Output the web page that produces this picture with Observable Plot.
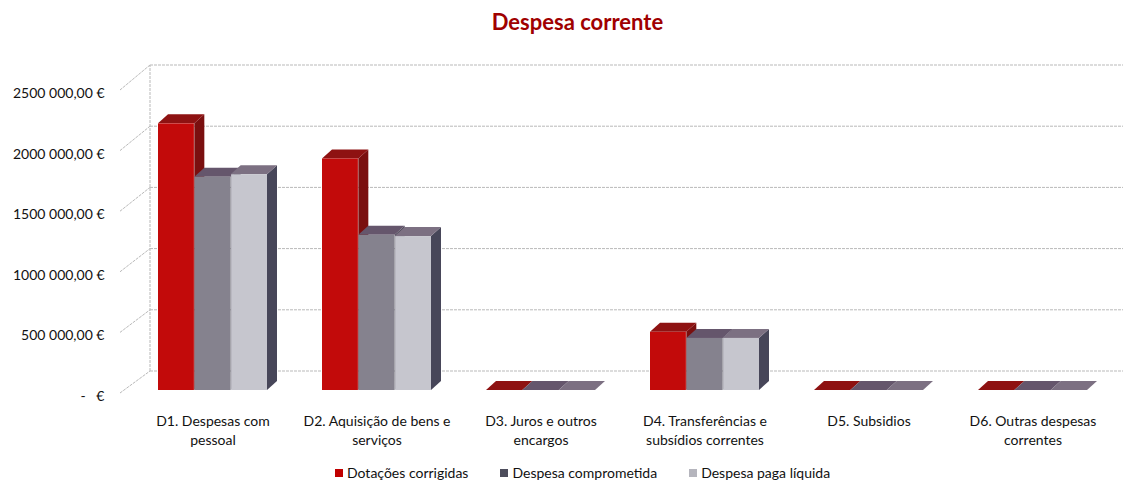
<!DOCTYPE html>
<html><head><meta charset="utf-8">
<script src="https://cdn.jsdelivr.net/npm/d3@7"></script>
<script src="https://cdn.jsdelivr.net/npm/@observablehq/plot@0.6"></script>
<style>
body{margin:0;background:#fff;font-family:Lato,sans-serif;}
#wrap{position:relative;width:1123px;height:482px;overflow:hidden;background:#fff;}
#chart{position:absolute;left:0;top:0;}
#title{position:absolute;left:0;width:1155px;top:8px;text-align:center;font-weight:bold;font-size:22px;color:#a00000;}
#legend{position:absolute;top:464px;left:335px;font-size:14px;color:#111;display:flex;gap:32px;line-height:18px;}
#legend .it{display:flex;align-items:center;}
#legend .sw{width:8px;height:8px;margin-right:4px;display:inline-block;}
</style></head><body>
<div id="wrap"><div id="chart"></div><div id="title">Despesa corrente</div><div id="legend"></div></div>
<script>
const categories = ["D1. Despesas com pessoal", "D2. Aquisição de bens e serviços", "D3. Juros e outros encargos", "D4. Transferências e subsídios correntes", "D5. Subsidios", "D6. Outras despesas correntes"];
const categoryLabels = ["D1. Despesas com\npessoal", "D2. Aquisição de bens e\nserviços", "D3. Juros e outros\nencargos", "D4. Transferências e\nsubsídios correntes", "D5. Subsidios", "D6. Outras despesas\ncorrentes"];
const seriesNames = ["Dotações corrigidas", "Despesa comprometida", "Despesa paga líquida"];
const dotacoesCorrigidas = [2200000, 1910000, 0, 480000, 0, 0];
const despesaComprometida = [1760000, 1280000, 0, 430000, 0, 0];
const despesaPagaLiquida = [1780000, 1270000, 0, 430000, 0, 0];
const yTicks = [0, 500000, 1000000, 1500000, 2000000, 2500000];
const yTickLabels = ["-\u00a0\u00a0\u00a0€", "500\u00a0000,00 €", "1000\u00a0000,00 €", "1500\u00a0000,00 €", "2000\u00a0000,00 €", "2500\u00a0000,00 €"];

const series = [
  {name: seriesNames[0], values: dotacoesCorrigidas, front: "#c20a0a", top: "#8e1212", side: "#7a0f0f", sw: "#c00000"},
  {name: seriesNames[1], values: despesaComprometida, front: "#85828e", top: "#65566c", side: "#4b4858", sw: "#4d4d5c"},
  {name: seriesNames[2], values: despesaPagaLiquida, front: "#c6c6ce", top: "#7c7082", side: "#474659", sw: "#b5b5bd"}
];

const W = 1123, H = 455, ML = 129, MR = 7, MT = 90, MB = H - 393;
const DX = 10, DY = 9, LIFT = 3;          // bar depth projection
const WDX = 21, WDY = 22, WALLX = 9;     // wall depth projection
const bandW = (W - ML - MR) / categories.length * (2 / 3);
const barW = bandW / 3;

// walls and gridlines
function walls(index, scales) {
  const {y} = scales;
  const g = d3.create("svg:g").attr("stroke", "#b9b9b9").attr("fill", "none").attr("stroke-dasharray", "3,1");
  const xf = ML - WALLX, xb = ML + WDX;
  for (const t of yTicks) {
    const yb = y(t) - WDY - 3 * (t / 2500000);
    g.append("line").attr("x1", xf).attr("y1", y(t)).attr("x2", xb).attr("y2", yb);
    g.append("line").attr("x1", xb).attr("y1", yb).attr("x2", W).attr("y2", yb);
  }
  g.append("line").attr("x1", xb).attr("y1", y(0) - WDY).attr("x2", xb).attr("y2", y(2500000) - WDY - 3);
  return g.node();
}

// 3D top and side faces
function extrusions(index, scales) {
  const {x, y} = scales;
  const g = d3.create("svg:g");
  const bw = x.bandwidth() / 3;
  series.forEach((s, si) => {
    categories.forEach((c, ci) => {
      const v = s.values[ci];
      const x0 = x(c) + si * bw, x1 = x0 + bw;
      const yt = y(v) - LIFT, yb = y(0) - LIFT;
      g.append("path").attr("d", `M${x1},${yt}L${x1 + DX},${yt - DY}L${x1 + DX},${yb - DY}L${x1},${yb}Z`).attr("fill", s.side);
      g.append("path").attr("d", `M${x0},${yt}L${x0 + DX},${yt - DY}L${x1 + DX},${yt - DY}L${x1},${yt}Z`).attr("fill", s.top);
    });
  });
  return g.node();
}

const fronts = series.map((s, si) =>
  Plot.barY(categories.map((c, i) => ({category: c, value: s.values[i]})), {
    x: "category", y: "value", fill: s.front,
    insetLeft: si * barW, insetRight: (2 - si) * barW, dy: -LIFT
  })
);

const chart = Plot.plot({
  width: W, height: H,
  marginLeft: ML, marginRight: MR, marginTop: MT, marginBottom: MB,
  style: {fontFamily: "Lato, sans-serif", fontSize: "14px", color: "#111", background: "transparent"},
  x: {type: "band", domain: categories, paddingInner: 1 / 3, paddingOuter: 1 / 6, label: null},
  y: {domain: [0, 2500000], label: null},
  marks: [
    walls,
    extrusions,
    ...fronts,
    Plot.axisY(yTicks, {tickSize: 0, tickPadding: 25, dy: 3, fontSize: 14, tickFormat: d => yTickLabels[yTicks.indexOf(d)], label: null}),
    Plot.axisX({tickSize: 0, tickPadding: 19, fontSize: 14, lineHeight: 1.35, tickFormat: d => categoryLabels[categories.indexOf(d)], label: null})
  ]
});
document.getElementById("chart").append(chart);

const lg = document.getElementById("legend");
for (const s of series) {
  const it = document.createElement("div"); it.className = "it";
  const sw = document.createElement("span"); sw.className = "sw"; sw.style.background = s.sw;
  it.append(sw, document.createTextNode(s.name));
  lg.append(it);
}
</script>
</body></html>
